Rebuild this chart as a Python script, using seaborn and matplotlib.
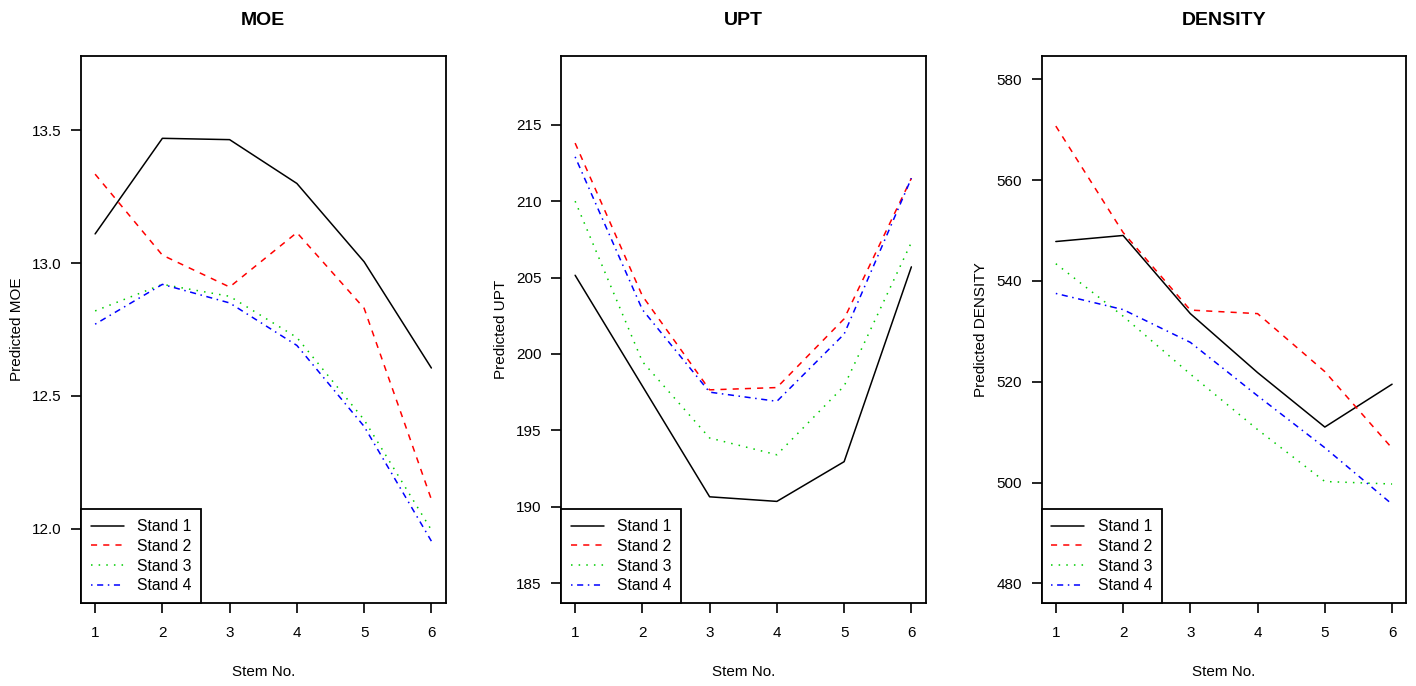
import numpy as np
import pandas as pd
import matplotlib
matplotlib.use("Agg")
import matplotlib.pyplot as plt
import seaborn as sns

# ---- data ----
stems = [1, 2, 3, 4, 5, 6]
stands = ["Stand 1", "Stand 2", "Stand 3", "Stand 4"]

moe_s1 = [13.11, 13.47, 13.465, 13.30, 13.005, 12.605]
moe_s2 = [13.335, 13.03, 12.91, 13.115, 12.83, 12.11]
moe_s3 = [12.82, 12.92, 12.875, 12.72, 12.41, 11.995]
moe_s4 = [12.77, 12.92, 12.85, 12.69, 12.385, 11.953]

upt_s1 = [205.15, 197.9, 190.65, 190.35, 192.95, 205.7]
upt_s2 = [213.8, 203.8, 197.65, 197.8, 202.3, 211.5]
upt_s3 = [210.0, 199.5, 194.5, 193.4, 197.9, 207.3]
upt_s4 = [212.9, 202.9, 197.5, 196.9, 201.3, 211.5]

den_s1 = [547.8, 549.0, 533.5, 521.8, 511.0, 519.5]
den_s2 = [570.7, 549.6, 534.2, 533.5, 522.0, 506.8]
den_s3 = [543.4, 533.0, 521.5, 510.5, 500.2, 499.7]
den_s4 = [537.5, 534.3, 527.8, 517.2, 506.9, 495.7]

titles = ["MOE", "UPT", "DENSITY"]
ylabels = ["Predicted MOE", "Predicted UPT", "Predicted DENSITY"]
xlabel = "Stem No."
moe_ticks = [12.0, 12.5, 13.0, 13.5]
upt_ticks = [185, 190, 195, 200, 205, 210, 215]
den_ticks = [480, 500, 520, 540, 560, 580]

panels = [
    ([moe_s1, moe_s2, moe_s3, moe_s4], moe_ticks, (11.72, 13.78), "{:.1f}"),
    ([upt_s1, upt_s2, upt_s3, upt_s4], upt_ticks, (183.7, 219.5), "{:.0f}"),
    ([den_s1, den_s2, den_s3, den_s4], den_ticks, (476.1, 584.6), "{:.0f}"),
]

colors = ["black", "#ff0000", "#00cd00", "#0000ff"]
dashes = [(None, None), (4, 4), (1, 4), (1, 3, 4, 3)]

sns.set_style("ticks")
plt.rcParams["font.family"] = ["Liberation Sans", "DejaVu Sans"]
plt.rcParams["text.color"] = "black"
plt.rcParams["axes.labelcolor"] = "black"

fig = plt.figure(figsize=(14.16, 6.86), dpi=100)
lefts = [81 / 1416, 561 / 1416, 1041.7 / 1416]
width = 364.5 / 1416
bottom = 1 - 603 / 686
height = (603 - 56) / 686

for i, (series, ticks, ylim, fmt) in enumerate(panels):
    ax = fig.add_axes([lefts[i], bottom, width, height])
    for j, vals in enumerate(series):
        df = pd.DataFrame({"stem": stems, "value": vals})
        sns.lineplot(data=df, x="stem", y="value", ax=ax, color=colors[j],
                     linewidth=1.1, label=stands[j])
        line = ax.lines[-1]
        if j > 0:
            line.set_dashes(dashes[j])
    ax.set_xlim(0.79, 6.21)
    ax.set_ylim(*ylim)
    ax.set_xticks(stems)
    ax.set_xticklabels([str(s) for s in stems])
    ax.set_yticks(ticks)
    ax.set_yticklabels([fmt.format(t) for t in ticks])
    ax.tick_params(axis="both", direction="out", length=7.5, width=1.2,
                   labelsize=11, colors="black")
    ax.tick_params(axis="x", pad=9)
    ax.tick_params(axis="y", pad=6.5)
    for sp in ax.spines.values():
        sp.set_visible(True)
        sp.set_linewidth(1.3)
        sp.set_color("black")
    ax.set_title(titles[i], fontsize=14, fontweight="bold", pad=22, color="black")
    ax.set_ylabel(ylabels[i], fontsize=11, labelpad=6)
    ax.set_xlabel(xlabel, fontsize=11, labelpad=18)
    leg = ax.legend(loc="lower left", borderaxespad=0, frameon=True,
                    fancybox=False, edgecolor="black", framealpha=1,
                    fontsize=11.3, handlelength=2.1, labelspacing=0.3,
                    borderpad=0.62, handletextpad=0.85)
    leg.get_frame().set_linewidth(1.3)

fig.savefig("out.png", dpi=100)
